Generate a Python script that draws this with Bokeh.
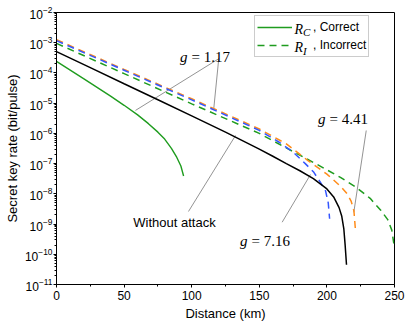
from bokeh.plotting import figure
from bokeh.models import Range1d, FixedTicker, Label, Legend, LegendItem
from bokeh.embed import file_html
from bokeh.resources import INLINE

# ---- data ----
dist_no_attack = [0, 25, 50, 75, 100, 125, 150, 160, 170, 180, 190, 200, 205, 209, 211, 212.5, 213.5, 214.5]
rate_no_attack = [5.1e-4, 1.5e-4, 4.4e-5, 1.3e-5, 3.8e-6, 1.1e-6, 3.0e-7, 1.75e-7, 1.0e-7, 5.8e-8,
                  3.2e-8, 1.45e-8, 7.9e-9, 3.5e-9, 1.8e-9, 7.1e-10, 2.0e-10, 4.5e-11]

dist_rc_117 = [0, 20, 40, 50, 60, 68, 75, 80, 85, 89, 92, 94]
rate_rc_117 = [2.4e-4, 6.5e-5, 1.7e-5, 8.5e-6, 4.1e-6, 2.1e-6, 1.1e-6, 6.5e-7, 3.2e-7, 1.6e-7,
               8.3e-8, 3.9e-8]

dist_ri_117 = [0, 50, 100, 150, 175, 195, 210, 222, 232, 240, 245, 248, 250]
rate_ri_117 = [9.5e-4, 9.5e-5, 9.5e-6, 1.0e-6, 2.5e-7, 8.3e-8, 3.5e-8, 1.6e-8, 7.1e-9, 2.8e-9,
               1.4e-9, 6.3e-10, 1.6e-10]

dist_ri_441 = [0, 50, 100, 150, 170, 186, 200, 210, 215, 218, 220, 221]
rate_ri_441 = [1.26e-3, 1.3e-4, 1.4e-5, 1.4e-6, 4.5e-7, 1.26e-7, 4.5e-8, 1.8e-8, 1.0e-8, 5.6e-9,
               2.7e-9, 7.4e-10]

dist_ri_716 = [0, 50, 100, 150, 165, 175, 184, 190, 195, 199, 201, 202]
rate_ri_716 = [1.17e-3, 1.23e-4, 1.29e-5, 1.26e-6, 5.0e-7, 2.4e-7, 1.0e-7, 5.4e-8, 2.5e-8, 1.26e-8,
               5.0e-9, 1.5e-9]

x_ticks = [0, 50, 100, 150, 200, 250]
x_minor = [25, 75, 125, 175, 225]
y_exponents = list(range(-11, -1))

legend_labels = [", Correct", ", Incorrect"]

# annotation anchors (data coords)
g_texts = ["= 1.17", "= 4.41", "= 7.16"]
g_x = [99.85, 201.9, 144.2]
g_y = [3.3e-4, 3.1e-6, 2.85e-10]
wa_text = "Without attack"
wa_x, wa_y = 87.3, 1.12e-9
leader_x0 = [120.0, 120.0, 97.6, 229.1, 166.9]
leader_y0 = [2.95e-4, 2.95e-4, 2.6e-9, 1.245e-6, 1.15e-9]
leader_x1 = [58.4, 116.3, 132.4, 219.9, 187.9]
leader_y1 = [5.75e-6, 6.46e-6, 8.5e-7, 2.45e-9, 4.37e-8]

GREEN = "#1f9c1f"
ORANGE = "#ff8c1a"
BLUE = "#3456ff"
SANS = "Liberation Sans"
SERIF = "Liberation Serif"

p = figure(width=415, height=334, y_axis_type="log",
           x_range=Range1d(0, 250), y_range=Range1d(1e-11, 1e-2),
           output_backend="svg", toolbar_location=None,
           min_border_left=56, min_border_right=21, min_border_top=12, min_border_bottom=50)

p.xgrid.visible = False
p.ygrid.visible = False
p.outline_line_color = "black"
p.outline_line_width = 1
p.background_fill_color = "white"
p.border_fill_color = "white"

p.xaxis.ticker = FixedTicker(ticks=x_ticks, minor_ticks=x_minor)
p.yaxis.ticker = FixedTicker(ticks=[10.0 ** e for e in y_exponents],
                             minor_ticks=[m * 10.0 ** e for e in y_exponents[:-1] for m in range(2, 10)])

for ax in (p.xaxis[0], p.yaxis[0]):
    ax.axis_line_color = "black"
    ax.major_tick_line_color = "black"
    ax.minor_tick_line_color = "black"
    ax.major_tick_in = 0
    ax.major_tick_out = 3
    ax.minor_tick_in = 0
    ax.minor_tick_out = 2
    ax.major_label_text_font = SANS
    ax.major_label_text_font_size = "12px"
    ax.major_label_text_color = "black"
    ax.axis_label_text_font = SANS
    ax.axis_label_text_font_size = "13px"
    ax.axis_label_text_font_style = "normal"
    ax.axis_label_text_color = "black"

p.xaxis.axis_label = "Distance (km)"
p.yaxis.axis_label = "Secret key rate (bit/pulse)"
p.xaxis.major_label_standoff = 3
p.xaxis.axis_label_standoff = 3
p.yaxis.major_label_standoff = 1
p.yaxis.axis_label_standoff = 2

# leader lines
p.segment(leader_x0, leader_y0, leader_x1, leader_y1, line_color="#777777", line_width=0.8)

r_rc = p.line(dist_rc_117, rate_rc_117, line_color=GREEN, line_width=1.4)
r_ri = p.line(dist_ri_117, rate_ri_117, line_color=GREEN, line_width=1.5, line_dash="7 5")
p.line(dist_ri_441, rate_ri_441, line_color=ORANGE, line_width=1.5, line_dash="7 5")
p.line(dist_ri_716, rate_ri_716, line_color=BLUE, line_width=1.5, line_dash="7 5")
p.line(dist_no_attack, rate_no_attack, line_color="black", line_width=1.5)

# annotation labels
for t, x, y in zip(g_texts, g_x, g_y):
    p.add_layout(Label(x=x, y=y, text="g", text_align="right", text_baseline="alphabetic",
                       x_offset=-4, text_font=SERIF, text_font_style="italic",
                       text_font_size="15px", text_color="black"))
    p.add_layout(Label(x=x, y=y, text=t, text_align="left", text_baseline="alphabetic",
                       text_font=SERIF, text_font_size="15px", text_color="black"))
p.add_layout(Label(x=wa_x, y=wa_y, text=wa_text, text_align="center", text_baseline="middle",
                   text_font=SANS, text_font_size="13px", text_color="black"))

legend = Legend(items=[LegendItem(label=legend_labels[0], renderers=[r_rc]),
                       LegendItem(label=legend_labels[1], renderers=[r_ri])],
                location=(198, 227), glyph_width=35, glyph_height=18, label_height=18,
                label_standoff=21, padding=2, spacing=0, margin=0,
                border_line_color="#999999", border_line_width=1,
                label_text_font=SANS, label_text_font_size="12px", label_text_color="black",
                background_fill_alpha=0)
p.add_layout(legend)

# R_C / R_I symbols inside the legend
for base_y, sub, sub_y in [(255.5, "C", 252.5), (237.0, "I", 234.0)]:
    p.add_layout(Label(x=238, y=base_y, x_units="screen", y_units="screen", text="R",
                       text_font=SERIF, text_font_style="italic", text_font_size="14px",
                       text_baseline="alphabetic", text_color="black"))
    p.add_layout(Label(x=246.5, y=sub_y, x_units="screen", y_units="screen", text=sub,
                       text_font=SERIF, text_font_style="italic", text_font_size="11px",
                       text_baseline="alphabetic", text_color="black"))

open("out.html", "w").write(file_html(p, INLINE))
